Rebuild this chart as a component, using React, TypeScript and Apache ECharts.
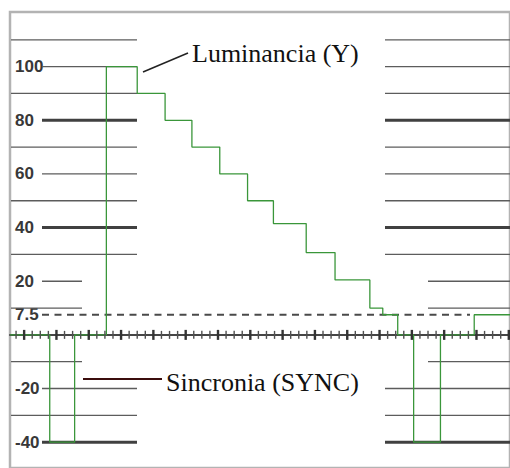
import { useEffect, useRef } from "react";
import * as echarts from "echarts";

// ---- Data (x in tick units, y in IRE) ----
// Each level starts at LEVEL_TIMES[i] and is held until the next time.
const LEVEL_TIMES = [0.25, 5.17, 8.25, 12.18, 16.0, 19.45, 22.77, 26.22, 29.66, 32.86, 36.92, 40.49, 44.8, 46.4, 48.25, 50.22, 53.54, 57.72, 62.15];
const LEVEL_VALUES = [0, -40, 0, 100, 90, 80, 70, 60, 50, 41.5, 30.7, 20.5, 10, 7.5, 0, -40, 0, 7.5, 7.5];

const Y_TICK_LABELS = [100, 80, 60, 40, 20, 7.5, -20, -40];
const GRID_LEVELS = [110, 100, 90, 80, 70, 60, 50, 40, 30, 20, 10, -10, -20, -30, -40];
const THICK_LEVELS = [80, 40, -40];
const SHORT_LEVELS = [20, 10, -10];
const BLANKING_LEVEL = 7.5;
const X_TICKS = Array.from({ length: 62 }, (_, i) => i + 1);
const MAJOR_TICK_EVERY = 4;
const MAJOR_TICK_PHASE = 2;

const X_MIN = 0.25;
const X_MAX = 62.15;
const Y_MIN = -49.63;
const Y_MAX = 120.37;

// ---- Layout (pixels) ----
const FRAME_X = 11;
const LABEL_END_X = 42;
const LEFT_END_X = 137;
const LEFT_SHORT_END_X = 82;
const RIGHT_START_X = 385;
const RIGHT_SHORT_START_X = 428;
const RIGHT_END_X = 512;
const DASH_END_X = 470;

export default function App() {
  const ref = useRef<HTMLDivElement>(null);

  useEffect(() => {
    if (!ref.current) return;
    const chart = echarts.init(ref.current, undefined, { renderer: "svg" });

    const gridRender = (_params: any, api: any) => {
      const level = api.value(1);
      const y = api.coord([X_MIN, level])[1];
      const thick = THICK_LEVELS.includes(level);
      const short = SHORT_LEVELS.includes(level);
      const labelled = Y_TICK_LABELS.includes(level);
      const style = { stroke: thick ? "#404040" : "#5c5c5c", lineWidth: thick ? 3 : 1.3 };
      return {
        type: "group",
        children: [
          { type: "line", shape: { x1: labelled ? LABEL_END_X : FRAME_X, y1: y, x2: short ? LEFT_SHORT_END_X : LEFT_END_X, y2: y }, style },
          { type: "line", shape: { x1: short ? RIGHT_SHORT_START_X : RIGHT_START_X, y1: y, x2: RIGHT_END_X, y2: y }, style },
        ],
      };
    };

    const dashRender = (_params: any, api: any) => {
      const y = api.coord([X_MIN, api.value(1)])[1];
      return {
        type: "line",
        shape: { x1: LABEL_END_X, y1: y, x2: DASH_END_X, y2: y },
        style: { stroke: "#4a4a4a", lineWidth: 2, lineDash: [7, 5.5] },
      };
    };

    const tickRender = (_params: any, api: any) => {
      const k = api.value(0);
      const p = api.coord([k, 0]);
      const major = k % MAJOR_TICK_EVERY === MAJOR_TICK_PHASE;
      const h = major ? 5 : 4;
      return {
        type: "line",
        shape: { x1: p[0], y1: p[1] - h, x2: p[0], y2: p[1] + h },
        style: { stroke: major ? "#333" : "#505050", lineWidth: major ? 2.4 : 1.4 },
      };
    };

    const option: any = {
      animation: false,
      backgroundColor: "#ffffff",
      grid: {
        left: 10, top: 12, right: -3, bottom: -3,
        show: true, borderColor: "#b3b3b3", borderWidth: 2.5, backgroundColor: "transparent",
      },
      xAxis: {
        type: "value", min: X_MIN, max: X_MAX,
        axisLine: { onZero: true, lineStyle: { color: "#454545", width: 2 } },
        axisTick: { show: false }, axisLabel: { show: false }, splitLine: { show: false },
      },
      yAxis: {
        type: "value", min: Y_MIN, max: Y_MAX,
        axisLine: { show: false }, axisTick: { show: false }, splitLine: { show: false },
        axisLabel: {
          inside: true, margin: 5, customValues: Y_TICK_LABELS,
          formatter: (v: number) => String(v),
          color: "#383838", fontSize: 17, fontWeight: "bold",
          fontFamily: "'Liberation Sans', Arial, sans-serif",
        },
      },
      series: [
        { type: "custom", name: "grid", z: 2, silent: true, renderItem: gridRender, data: GRID_LEVELS.map((v) => [X_MIN, v]) },
        { type: "custom", name: "blanking", z: 2, silent: true, renderItem: dashRender, data: [[X_MIN, BLANKING_LEVEL]] },
        {
          type: "line", name: "Luminancia", z: 3, step: "end", showSymbol: false, symbol: "none", silent: true,
          lineStyle: { color: "#3a963a", width: 1.3 },
          data: LEVEL_TIMES.map((t, i) => [t, LEVEL_VALUES[i]]),
        },
        { type: "custom", name: "ticks", z: 4, silent: true, renderItem: tickRender, data: X_TICKS.map((k) => [k, 0]) },
      ],
      graphic: [
        { type: "line", z: 10, shape: { x1: 143, y1: 72, x2: 188, y2: 53 }, style: { stroke: "#222", lineWidth: 1.5 } },
        { type: "text", z: 10, x: 192, y: 53, style: { text: "Luminancia (Y)", font: "26px 'Liberation Serif', 'Times New Roman', serif", fill: "#111", verticalAlign: "middle" } },
        { type: "line", z: 10, shape: { x1: 83, y1: 379, x2: 162, y2: 379 }, style: { stroke: "#3b0d0d", lineWidth: 2 } },
        { type: "text", z: 10, x: 166, y: 382, style: { text: "Sincronia (SYNC)", font: "26px 'Liberation Serif', 'Times New Roman', serif", fill: "#111", verticalAlign: "middle" } },
      ],
    };

    chart.setOption(option);
    return () => chart.dispose();
  }, []);

  return (
    <div
      ref={ref}
      style={{ position: "fixed", left: 0, top: 0, width: 510, height: 468, background: "#fff" }}
    />
  );
}
